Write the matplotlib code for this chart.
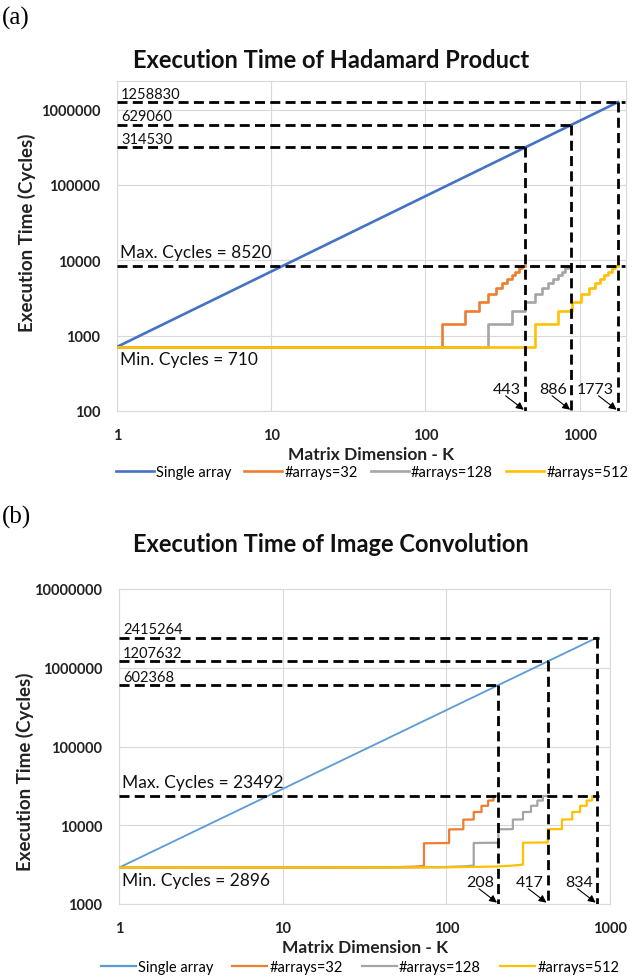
import matplotlib
matplotlib.use('Agg')
import matplotlib.pyplot as plt
from matplotlib.lines import Line2D
from matplotlib.ticker import FixedLocator, FuncFormatter, NullLocator

plt.rcParams['font.family'] = ['Lato', 'DejaVu Sans']

# ---- data, panel (a): Hadamard product ----
k_single_a = [1, 443, 886, 1773]
cyc_single_a = [710, 314530, 629060, 1258830]

k_32_a = [1, 128, 181, 222, 256, 286, 314, 339, 362, 384, 405, 425, 443]
k_128_a = [1, 256, 362, 443, 512, 572, 627, 677, 724, 768, 810, 849, 886]
k_512_a = [1, 512, 724, 887, 1024, 1145, 1254, 1355, 1448, 1536, 1619, 1698, 1773]
cyc_steps_a = [710, 1420, 2130, 2840, 3550, 4260, 4970, 5680, 6390, 7100, 7810, 8520, 8520]

# ---- data, panel (b): image convolution ----
k_single_b = [1, 208, 417, 834]
cyc_single_b = [2896, 602368, 1207632, 2415264]

k_32_b = [1, 30, 50, 65, 73, 73, 104, 104, 127, 127, 147, 147, 164, 164, 180, 180, 194, 194, 208]
cyc_32_b = [2896, 2905, 2935, 2985, 3050, 5900, 5950, 8850, 8900, 11780, 11830, 14700, 14750,
            17630, 17680, 20560, 20610, 23440, 23492]
k_128_b = [1, 60, 100, 130, 147, 147, 208, 208, 255, 255, 294, 294, 329, 329, 360, 360, 389, 389, 417]
cyc_128_b = [2896, 2910, 2950, 3010, 3080, 5950, 6000, 8880, 8930, 11800, 11850, 14720, 14770,
             17650, 17700, 20580, 20630, 23440, 23492]
k_512_b = [1, 100, 200, 260, 294, 294, 417, 417, 509, 509, 588, 588, 657, 657, 720, 720, 778, 778, 834]
cyc_512_b = [2896, 2920, 2990, 3080, 3170, 6000, 6050, 8900, 8950, 11820, 11870, 14740, 14790,
             17660, 17710, 20590, 20640, 23440, 23492]

series_labels = ['Single array', '#arrays=32', '#arrays=128', '#arrays=512']
step_colors = ['#ED7D31', '#A5A5A5', '#FFC000']

W, H = 639, 979
fig = plt.figure(figsize=(W / 100, H / 100), dpi=100)


def axes_px(left, top, right, bottom):
    return fig.add_axes([left / W, 1 - bottom / H, (right - left) / W, (bottom - top) / H])


def style_axes(ax, xlim, ylim, xticks, yticks):
    ax.set_xscale('log')
    ax.set_yscale('log')
    ax.set_xlim(*xlim)
    ax.set_ylim(*ylim)
    ax.xaxis.set_major_locator(FixedLocator(xticks))
    ax.yaxis.set_major_locator(FixedLocator(yticks))
    ax.xaxis.set_minor_locator(NullLocator())
    ax.yaxis.set_minor_locator(NullLocator())
    fmt = FuncFormatter(lambda v, p: '%d' % int(round(v)))
    ax.xaxis.set_major_formatter(fmt)
    ax.yaxis.set_major_formatter(fmt)
    ax.tick_params(length=0, labelsize=10.5, colors='#222222')
    ax.tick_params(axis='x', pad=12)
    ax.tick_params(axis='y', pad=12)
    for lab in ax.get_xticklabels() + ax.get_yticklabels():
        lab.set_fontweight('bold')
    ax.grid(True, color='#D9D9D9', lw=0.8)
    ax.set_axisbelow(True)
    for s in ax.spines.values():
        s.set_color('#D9D9D9')
        s.set_linewidth(0.8)
    ax.set_xlabel('Matrix Dimension - K', fontsize=12.5, fontweight='bold', labelpad=3,
                  color='#222222')


def dashed(ax, xs, ys):
    ax.plot(xs, ys, color='black', lw=2.0, dashes=(3.6, 1.9), zorder=5)


def annotate_panel(ax, k_marks, cyc_marks, cyc_max, cyc_min, xmin, ymin, xright):
    for k, c in zip(k_marks[1:], cyc_marks[1:]):
        # the line of the largest matrix runs on to the right edge
        x_end = xright if k == k_marks[-1] else k
        dashed(ax, [xmin, x_end], [c, c])
        dashed(ax, [k, k], [c, ymin])
        ax.annotate('%d' % c, xy=(xmin, c), xytext=(3, 1), textcoords='offset points',
                    ha='left', va='bottom', fontsize=10.5, color='#111111')
        ax.annotate('%d' % k, xy=(k, ymin), xytext=(-3, 11), textcoords='offset points',
                    ha='right', va='bottom', fontsize=11.5, color='#111111')
        ax.annotate('', xy=(k / 1.02, ymin * 1.04), xytext=(-13, 10), textcoords='offset points',
                    arrowprops=dict(arrowstyle='-|>', color='black', lw=0.8,
                                    mutation_scale=11, shrinkA=0, shrinkB=0))
    dashed(ax, [xmin, xright], [cyc_max, cyc_max])
    ax.annotate('Max. Cycles = %d' % cyc_max, xy=(xmin, cyc_max), xytext=(2, 4),
                textcoords='offset points', ha='left', va='bottom', fontsize=12.5, color='#111111')
    ax.annotate('Min. Cycles = %d' % cyc_min, xy=(xmin, cyc_min), xytext=(2, -3),
                textcoords='offset points', ha='left', va='top', fontsize=12.5, color='#111111')


# ---------------- panel (a) ----------------
ax_a = axes_px(117, 82, 626, 412)
style_axes(ax_a, (1, 2000), (100, 2.4e6), [1, 10, 100, 1000], [100, 1000, 10000, 100000, 1000000])
ax_a.plot(k_single_a, cyc_single_a, color='#4472C4', lw=1.9, zorder=3)
for ks, col in zip([k_32_a, k_128_a, k_512_a], step_colors):
    ax_a.plot(ks, cyc_steps_a, color=col, lw=1.9, drawstyle='steps-post', zorder=3)
annotate_panel(ax_a, k_single_a, cyc_single_a, 8520, 710, 1, 100, 1960)

# ---------------- panel (b) ----------------
ax_b = axes_px(119, 590, 610, 905)
style_axes(ax_b, (1, 1000), (1000, 1e7), [1, 10, 100, 1000], [1000, 10000, 100000, 1000000, 10000000])
ax_b.plot(k_single_b, cyc_single_b, color='#5B9BD5', lw=1.3, zorder=3)
for ks, cs, col in zip([k_32_b, k_128_b, k_512_b], [cyc_32_b, cyc_128_b, cyc_512_b], step_colors):
    ax_b.plot(ks, cs, color=col, lw=1.6, zorder=3)
annotate_panel(ax_b, k_single_b, cyc_single_b, 23492, 2896, 1, 1000, 860)

# titles, y labels, panel letters
fig.text(331 / W, 1 - 61 / H, 'Execution Time of Hadamard Product', ha='center', va='center',
         fontsize=17, fontweight='bold', color='#111111')
fig.text(331 / W, 1 - 545 / H, 'Execution Time of Image Convolution', ha='center', va='center',
         fontsize=17, fontweight='bold', color='#111111')
fig.text(27 / W, 1 - 233 / H, 'Execution Time (Cycles)', rotation=90, ha='center', va='center',
         fontsize=13.5, fontweight='bold', color='#222222')
fig.text(25 / W, 1 - 772 / H, 'Execution Time (Cycles)', rotation=90, ha='center', va='center',
         fontsize=13.5, fontweight='bold', color='#222222')
fig.text(2 / W, 1 - 18 / H, '(a)', ha='left', va='center', fontsize=18, family='Liberation Serif')
fig.text(2 / W, 1 - 517 / H, '(b)', ha='left', va='center', fontsize=18, family='Liberation Serif')

# legends
handles_a = [Line2D([], [], color=c, lw=1.9) for c in ['#4472C4'] + step_colors]
fig.legend(handles_a, series_labels, loc='center', bbox_to_anchor=(372 / W, 1 - 473 / H), ncol=4,
           frameon=False, fontsize=10.5, handlelength=2.6, handletextpad=0.15, columnspacing=0.9)
handles_b = [Line2D([], [], color=c, lw=1.6) for c in ['#5B9BD5'] + step_colors]
fig.legend(handles_b, series_labels, loc='center', bbox_to_anchor=(360 / W, 1 - 968 / H), ncol=4,
           frameon=False, fontsize=10.5, handlelength=2.4, handletextpad=0.15, columnspacing=1.3)

fig.savefig('out.png', dpi=100)
